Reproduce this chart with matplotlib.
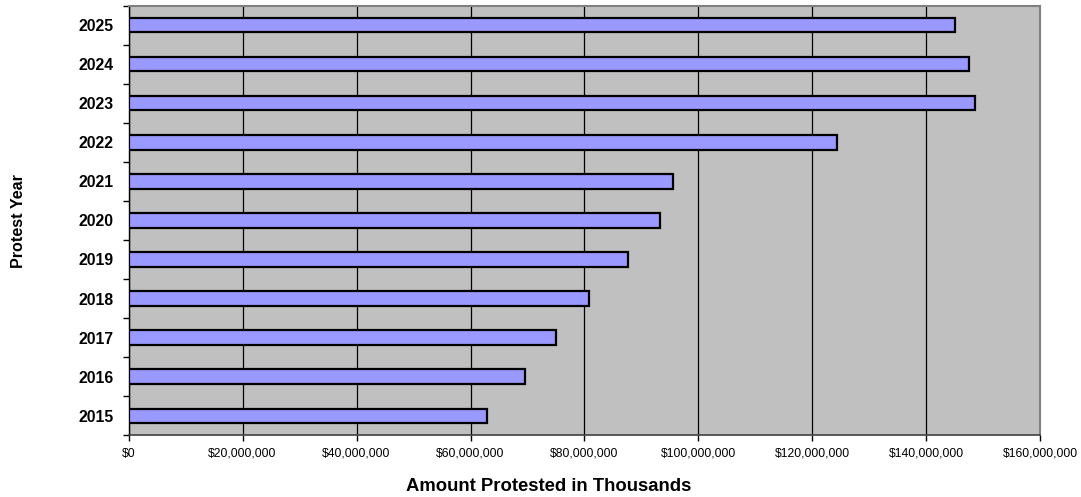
import numpy as np
import matplotlib.pyplot as plt
from matplotlib.ticker import FuncFormatter, MultipleLocator, FixedLocator

plt.rcParams['font.family'] = ['Liberation Sans', 'DejaVu Sans']

years = ["2015", "2016", "2017", "2018", "2019", "2020",
         "2021", "2022", "2023", "2024", "2025"]
amounts = [62.9e6, 69.5e6, 75.0e6, 80.8e6, 87.6e6, 93.2e6,
           95.5e6, 124.3e6, 148.6e6, 147.5e6, 145.0e6]

fig = plt.figure(figsize=(10.81, 4.97), dpi=100)
ax = fig.add_axes([0.1189, 0.1247, 0.8436, 0.8633])
ax.set_facecolor("#C0C0C0")

y = np.arange(len(years))
ax.barh(y, amounts, height=0.36, color="#9999FF", edgecolor="black",
        linewidth=1.6, zorder=3)

ax.set_xlim(0, 160e6)
ax.set_ylim(-0.5, len(years) - 0.5)

ax.xaxis.set_major_locator(MultipleLocator(20e6))
ax.xaxis.set_major_formatter(FuncFormatter(lambda v, p: "${:,.0f}".format(v)))
ax.grid(axis="x", color="black", linewidth=0.9, zorder=1)

ax.set_yticks(y)
ax.set_yticklabels(years, fontsize=11.3, fontweight="bold")
ax.yaxis.set_minor_locator(FixedLocator(np.arange(-0.5, len(years), 1.0)))
ax.tick_params(axis="y", which="major", length=0, pad=10.5)
ax.tick_params(axis="y", which="minor", length=4, width=1)
ax.tick_params(axis="x", which="major", length=4, width=1, labelsize=8.7, pad=5)

for side in ("top", "right"):
    ax.spines[side].set_color("#808080")
    ax.spines[side].set_linewidth(1.5)
ax.spines["left"].set_color("black")
ax.spines["bottom"].set_color("#404040")
ax.spines["left"].set_linewidth(1)
ax.spines["bottom"].set_linewidth(1.2)

# axis titles are centred on the chart area rather than the plot area
fig.text(0.508, 0.012, "Amount Protested in Thousands", fontsize=13.3,
         fontweight="bold", ha="center", va="baseline")
fig.text(0.0167, 0.555, "Protest Year", fontsize=11.6, fontweight="bold",
         rotation=90, ha="center", va="center")

fig.savefig("out.png", dpi=100)
plt.close(fig)
